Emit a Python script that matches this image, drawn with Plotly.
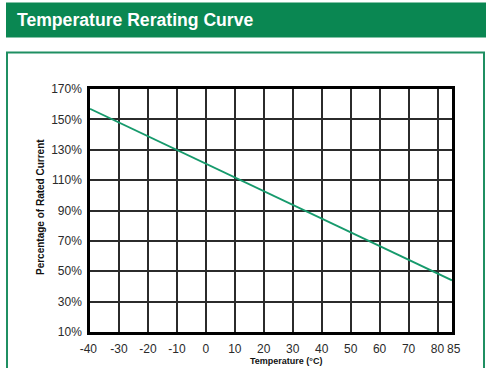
import plotly.graph_objects as go

# Data
temps = [-40, 85]
rated_pct = [157, 44]
x_ticks = [-40, -30, -20, -10, 0, 10, 20, 30, 40, 50, 60, 70, 80, 85]
x_tick_labels = ["-40\u00a0", "-30", "-20", "-10", "0", "10", "20", "30", "40",
                 "50", "60", "70", "80", "\u00a085"]
y_ticks = [10, 30, 50, 70, 90, 110, 130, 150, 170]
y_tick_labels = [f"{v}%" for v in y_ticks]

W, H = 490, 368
L, R, T, B = 90, 38, 89, 36
pw, ph = W - L - R, H - T - B

def px(x):
    return (x - L) / pw

def py(y):
    return (H - B - y) / ph

GREEN = "#0a8752"
LINE = "#169a6c"
GRID = "#2b2b2b"

fig = go.Figure()
fig.add_trace(go.Scatter(x=temps, y=rated_pct, mode="lines",
                         line=dict(color=LINE, width=1.8), showlegend=False,
                         hoverinfo="skip"))

fig.update_layout(
    width=W, height=H,
    margin=dict(l=L, r=R, t=T, b=B, autoexpand=False),
    paper_bgcolor="white", plot_bgcolor="white",
    font=dict(family="Liberation Sans, Arial, sans-serif", size=12, color="#2a2a2a"),
    xaxis=dict(range=[-40, 85], tickvals=x_ticks, ticktext=x_tick_labels,
               showgrid=True, gridcolor=GRID, gridwidth=1.5,
               showline=True, linecolor="black", linewidth=2.5, mirror=True,
               zeroline=False, ticks="", ticklabelstandoff=4, tickangle=0,
               automargin=False,
               tickfont=dict(size=12, color="#2a2a2a")),
    yaxis=dict(range=[10, 170], tickvals=y_ticks, ticktext=y_tick_labels,
               showgrid=True, gridcolor=GRID, gridwidth=1.5,
               showline=True, linecolor="black", linewidth=2.5, mirror=True,
               zeroline=False, ticks="", ticklabelstandoff=3, automargin=False,
               tickfont=dict(size=12, color="#2a2a2a")),
    shapes=[
        dict(type="rect", xref="paper", yref="paper",
             x0=px(6), x1=px(486), y0=py(37.5), y1=py(2.5),
             fillcolor=GREEN, line=dict(width=0), layer="below"),
        dict(type="rect", xref="paper", yref="paper",
             x0=px(7), x1=px(484), y0=py(380), y1=py(52.5),
             fillcolor="rgba(0,0,0,0)", line=dict(color="#1f8f62", width=2), layer="below"),
    ],
    annotations=[
        dict(text="<b>Temperature Rerating Curve</b>", xref="paper", yref="paper",
             x=px(15), y=py(20), xanchor="left", yanchor="middle", showarrow=False,
             font=dict(family="Liberation Sans, Arial, sans-serif", size=17.6, color="white")),
        dict(text="<b>Percentage of Rated Current</b>", xref="paper", yref="paper",
             x=px(40), y=py(207), xanchor="center", yanchor="middle", showarrow=False,
             textangle=-90,
             font=dict(family="Liberation Sans Narrow, Arial Narrow, sans-serif", size=10, color="#111")),
        dict(text="<b>Temperature (°C)</b>", xref="paper", yref="paper",
             x=px(286), y=py(368), xanchor="center", yanchor="bottom", showarrow=False,
             font=dict(family="Liberation Sans Narrow, Arial Narrow, sans-serif", size=9, color="#111")),
    ],
)

fig.write_html("out.html", config={"displayModeBar": False},
               post_script="document.body.style.margin='0';document.body.style.padding='0';")
